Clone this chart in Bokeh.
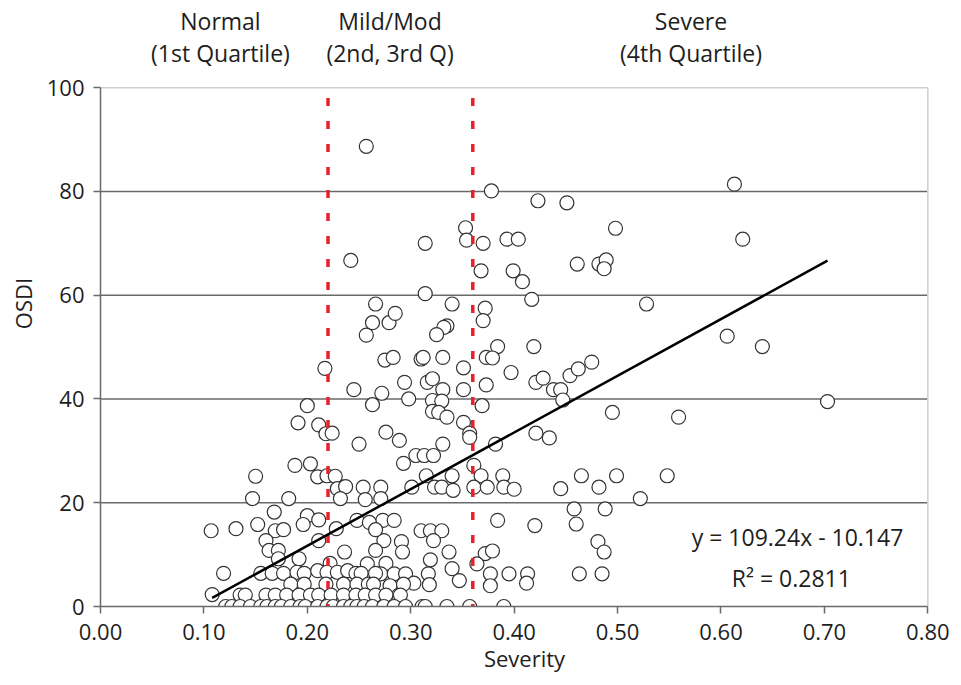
from bokeh.plotting import figure
from bokeh.models import Label, FixedTicker, NumeralTickFormatter, ColumnDataSource
from bokeh.embed import file_html
from bokeh.resources import INLINE

# ---- data ----
severity = [
    0.257, 0.242, 0.266, 0.263, 0.279, 0.257, 0.275, 0.283, 0.378, 0.423,
    0.451, 0.613, 0.498, 0.621, 0.353, 0.354, 0.314, 0.370, 0.393, 0.404,
    0.368, 0.399, 0.408, 0.461, 0.482, 0.489, 0.487, 0.314, 0.340, 0.372,
    0.370, 0.417, 0.528, 0.285, 0.335, 0.332, 0.325, 0.606, 0.640, 0.419,
    0.384, 0.310, 0.312, 0.331, 0.373, 0.379, 0.351, 0.397, 0.421, 0.428,
    0.454, 0.462, 0.475, 0.294, 0.316, 0.321, 0.331, 0.351, 0.373, 0.272,
    0.298, 0.321, 0.330, 0.321, 0.327, 0.335, 0.351, 0.369, 0.438, 0.445,
    0.447, 0.703, 0.495, 0.559, 0.276, 0.289, 0.331, 0.357, 0.357, 0.382,
    0.421, 0.434, 0.305, 0.313, 0.322, 0.293, 0.361, 0.315, 0.340, 0.368,
    0.389, 0.465, 0.499, 0.548, 0.271, 0.301, 0.323, 0.330, 0.341, 0.361,
    0.374, 0.390, 0.400, 0.234, 0.254, 0.445, 0.482, 0.522, 0.458, 0.488,
    0.273, 0.284, 0.384, 0.420, 0.460, 0.310, 0.319, 0.330, 0.322, 0.274,
    0.291, 0.292, 0.337, 0.319, 0.372, 0.379, 0.364, 0.481, 0.487, 0.276,
    0.340, 0.271, 0.284, 0.295, 0.317, 0.377, 0.395, 0.413, 0.463, 0.485,
    0.347, 0.318, 0.377, 0.412, 0.280, 0.303, 0.288,
    0.217, 0.245, 0.200, 0.191, 0.211, 0.218, 0.224, 0.263, 0.250, 0.188,
    0.203, 0.150, 0.210, 0.219, 0.227, 0.229, 0.237, 0.147, 0.182, 0.232,
    0.256, 0.271, 0.168, 0.200, 0.211, 0.196, 0.107, 0.131, 0.152, 0.169,
    0.177, 0.228, 0.248, 0.260, 0.266, 0.160, 0.211, 0.163, 0.172, 0.236,
    0.266, 0.192, 0.172, 0.222, 0.258,
    0.119, 0.155, 0.166, 0.177, 0.190, 0.197, 0.210, 0.219, 0.229, 0.239,
    0.247, 0.252, 0.266,
    0.184, 0.197, 0.218, 0.235, 0.248, 0.259, 0.264, 0.293,
    0.108, 0.135, 0.140, 0.160, 0.169, 0.180, 0.192, 0.203, 0.211, 0.223,
    0.235, 0.247, 0.256, 0.266, 0.276, 0.290,
    0.121, 0.127, 0.135, 0.145, 0.155, 0.161, 0.169, 0.175, 0.184, 0.193,
    0.198, 0.210, 0.219, 0.225, 0.235, 0.242, 0.248, 0.255, 0.263, 0.274,
    0.284, 0.295, 0.311, 0.314, 0.335, 0.357, 0.390,
]
osdi = [
    88.7, 66.7, 58.3, 54.7, 54.7, 52.3, 47.5, 48.0, 80.1, 78.2,
    77.8, 81.4, 72.9, 70.8, 73.0, 70.6, 70.0, 70.0, 70.8, 70.8,
    64.7, 64.7, 62.6, 66.0, 66.0, 66.8, 65.1, 60.3, 58.3, 57.5,
    55.1, 59.2, 58.3, 56.5, 54.1, 53.8, 52.4, 52.1, 50.1, 50.1,
    50.1, 47.7, 48.0, 48.0, 48.0, 47.9, 46.0, 45.1, 43.2, 44.0,
    44.5, 45.8, 47.1, 43.2, 43.2, 43.9, 41.8, 41.8, 42.7, 41.1,
    40.0, 39.7, 39.6, 37.6, 37.4, 36.5, 35.5, 38.7, 41.8, 41.8,
    39.8, 39.5, 37.4, 36.5, 33.6, 32.0, 31.3, 33.4, 32.6, 31.3,
    33.4, 32.5, 29.1, 29.1, 29.1, 27.6, 27.2, 25.2, 25.2, 25.2,
    25.2, 25.2, 25.2, 25.2, 23.0, 23.0, 23.0, 23.0, 22.4, 23.0,
    23.0, 23.0, 22.6, 23.0, 23.0, 22.7, 23.0, 20.8, 18.8, 18.8,
    16.6, 16.6, 16.6, 15.6, 15.9, 14.6, 14.6, 14.6, 12.7, 12.7,
    12.5, 10.5, 10.5, 9.0, 10.2, 10.7, 8.2, 12.5, 10.5, 8.3,
    7.3, 6.3, 6.3, 6.3, 6.3, 6.3, 6.3, 6.3, 6.3, 6.3,
    5.0, 4.2, 4.0, 4.5, 4.0, 4.5, 2.1,
    45.9, 41.8, 38.7, 35.4, 35.0, 33.3, 33.4, 38.9, 31.3, 27.2,
    27.5, 25.1, 25.0, 25.2, 25.1, 22.7, 23.1, 20.8, 20.8, 20.8,
    20.6, 20.8, 18.2, 17.5, 16.7, 15.8, 14.6, 15.0, 15.8, 14.6,
    14.8, 15.0, 16.6, 16.2, 14.8, 12.7, 12.7, 10.8, 10.8, 10.5,
    10.8, 9.2, 9.2, 8.3, 8.2,
    6.4, 6.4, 6.4, 6.4, 6.6, 6.4, 6.9, 6.6, 6.6, 6.9,
    6.4, 6.4, 6.4,
    4.3, 4.3, 4.3, 4.3, 4.3, 4.3, 4.3, 4.3,
    2.3, 2.2, 2.2, 2.2, 2.2, 2.2, 2.2, 2.2, 2.2, 2.2,
    2.2, 2.2, 2.2, 2.2, 2.2, 2.2,
    0.0, 0.0, 0.0, 0.0, 0.0, 0.0, 0.0, 0.0, 0.0, 0.0,
    0.0, 0.0, 0.0, 0.0, 0.0, 0.0, 0.0, 0.0, 0.0, 0.0,
    0.0, 0.0, 0.0, 0.0, 0.0, 0.0, 0.0,
]

fit_slope = 109.24
fit_intercept = -10.147
fit_x = [0.108, 0.703]
fit_text = "y = 109.24x - 10.147"
r2_text = "R\u00b2 = 0.2811"

cutoffs = [0.22, 0.36]
cutoff_top = 98

group_names = ["Normal", "Mild/Mod", "Severe"]
group_subs = ["(1st Quartile)", "(2nd, 3rd Q)", "(4th Quartile)"]
group_centers = [0.116, 0.280, 0.571]

x_min, x_max = 0.0, 0.8
y_min, y_max = 0, 100
x_ticks = [0.0, 0.1, 0.2, 0.3, 0.4, 0.5, 0.6, 0.7, 0.8]
y_ticks = [0, 20, 40, 60, 80, 100]
y_grid = [20, 40, 60, 80]

FONT = "Open Sans"
TXT = "#1e1e1e"
AX = "#6a6a6a"

# frame extends above y=100 (room for the group headers) and a little right of 0.8
p = figure(width=961, height=685, x_range=(0, 0.82), y_range=(0, 116.8),
           output_backend="svg", toolbar_location=None,
           min_border_left=100, min_border_right=13,
           min_border_top=0, min_border_bottom=79)
p.background_fill_color = "white"
p.border_fill_color = "white"
p.outline_line_color = None
p.xgrid.visible = False
p.ygrid.visible = False

# horizontal grid lines and light box edges
n = len(y_grid)
p.segment(x0=[x_min] * n, y0=y_grid, x1=[x_max] * n, y1=y_grid,
          line_color=AX, line_width=1.5)
p.segment(x0=[x_min, x_max], y0=[y_max, y_min], x1=[x_max, x_max], y1=[y_max, y_max],
          line_color="#cfcfcf", line_width=1.5)

for ax in (p.xaxis[0], p.yaxis[0]):
    ax.axis_line_color = AX
    ax.axis_line_width = 1.5
    ax.major_tick_line_color = AX
    ax.major_tick_line_width = 1.5
    ax.major_tick_in = 0
    ax.major_tick_out = 7
    ax.minor_tick_line_color = None
    ax.major_label_text_font = FONT
    ax.major_label_text_font_size = "22px"
    ax.major_label_text_color = TXT
    ax.axis_label_text_font = FONT
    ax.axis_label_text_font_size = "22px"
    ax.axis_label_text_font_style = "normal"
    ax.axis_label_text_color = TXT

p.xaxis.bounds = (x_min, x_max)
p.xaxis.ticker = FixedTicker(ticks=x_ticks)
p.xaxis.formatter = NumeralTickFormatter(format="0.00")
p.xaxis.major_label_standoff = 10
p.xaxis.axis_label = "Severity"
p.xaxis.axis_label_standoff = 0

p.yaxis.bounds = (y_min, y_max)
p.yaxis.ticker = FixedTicker(ticks=y_ticks)
p.yaxis.major_label_standoff = 9
p.yaxis.axis_label = "OSDI"
p.yaxis.axis_label_standoff = 6

src = ColumnDataSource(data=dict(x=severity, y=osdi))
p.scatter("x", "y", source=src, size=14, marker="circle",
          fill_color="white", line_color="#333333", line_width=1.2)

p.segment(x0=cutoffs, y0=[cutoff_top] * len(cutoffs), x1=cutoffs, y1=[0] * len(cutoffs),
          line_color="#e8202a", line_width=3.5, line_dash="8 15")

fit_y = [fit_slope * v + fit_intercept for v in fit_x]
p.line(fit_x, fit_y, line_color="black", line_width=2.5)

for name, sub, cx in zip(group_names, group_subs, group_centers):
    p.add_layout(Label(x=cx, y=112.9, text=name, text_align="center",
                       text_baseline="middle", text_font=FONT,
                       text_font_size="23px", text_color=TXT))
    p.add_layout(Label(x=cx, y=106.6, text=sub, text_align="center",
                       text_baseline="middle", text_font=FONT,
                       text_font_size="23px", text_color=TXT))

p.add_layout(Label(x=0.674, y=13.3, text=fit_text, text_align="center",
                   text_baseline="middle", text_font=FONT,
                   text_font_size="23px", text_color=TXT))
p.add_layout(Label(x=0.668, y=5.4, text=r2_text, text_align="center",
                   text_baseline="middle", text_font=FONT,
                   text_font_size="23px", text_color=TXT))

open("out.html", "w").write(file_html(p, INLINE))
